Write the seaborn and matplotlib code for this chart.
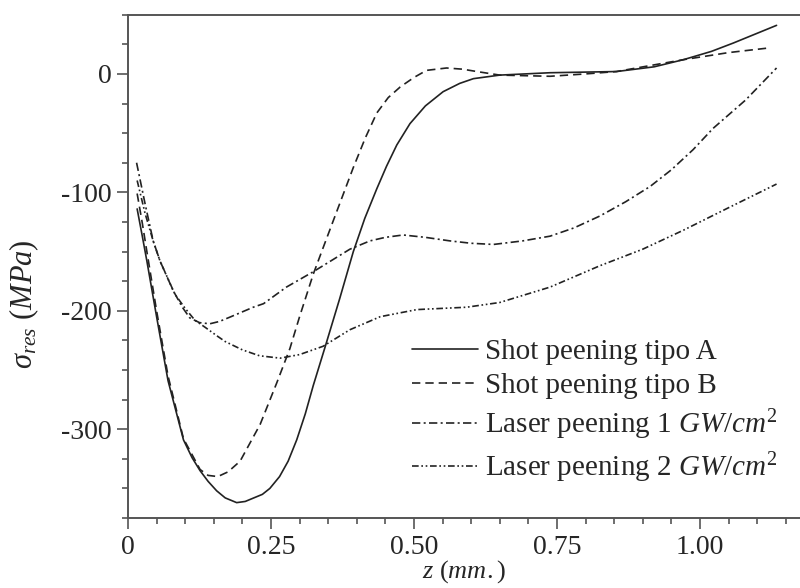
import numpy as np
import pandas as pd
import matplotlib
matplotlib.use("Agg")
import matplotlib.pyplot as plt
import seaborn as sns

# ==========================================
# DATA
# ==========================================
z_shot_a = [0.016, 0.025, 0.033, 0.05, 0.07, 0.097, 0.112, 0.126, 0.14, 0.155,
            0.17, 0.19, 0.205, 0.22, 0.235, 0.248, 0.265, 0.28, 0.295, 0.31,
            0.324, 0.345, 0.37, 0.394, 0.414, 0.435, 0.452, 0.47, 0.493, 0.52,
            0.551, 0.58, 0.604, 0.65, 0.738, 0.854, 0.92, 0.971, 1.02, 1.058,
            1.134]
s_shot_a = [-114, -137, -158, -205, -259, -309, -324, -335, -344, -352,
            -358, -362, -361, -358, -355, -350, -340, -327, -309, -287,
            -263, -230, -190, -150, -122, -97, -78, -60, -42, -27,
            -15, -8, -4, -1, 1, 2, 6, 12, 19, 26,
            41]

z_shot_b = [0.016, 0.025, 0.033, 0.05, 0.07, 0.097, 0.126, 0.14, 0.157, 0.175,
            0.196, 0.231, 0.26, 0.283, 0.30, 0.324, 0.341, 0.362, 0.394, 0.415,
            0.435, 0.455, 0.476, 0.50, 0.522, 0.557, 0.585, 0.61, 0.65, 0.738,
            0.80, 0.854, 0.971, 1.05, 1.122]
s_shot_b = [-101, -126, -150, -200, -255, -308, -334, -339, -340, -336,
            -327, -296, -261, -232, -205, -169, -147, -120, -79, -54,
            -33, -20, -11, -3, 3, 5, 4, 2, -1, -2,
            0, 2, 12, 18, 22]

z_laser_1 = [0.015, 0.03, 0.044, 0.056, 0.079, 0.095, 0.108, 0.125, 0.143, 0.16,
             0.18, 0.219, 0.237, 0.277, 0.324, 0.388, 0.423, 0.45, 0.481, 0.52,
             0.563, 0.6, 0.639, 0.69, 0.738, 0.78, 0.825, 0.87, 0.913, 0.95,
             0.988, 1.023, 1.08, 1.134]
s_laser_1 = [-75, -110, -141, -158, -183, -197, -206, -210, -211, -209,
             -205, -197, -194, -180, -167, -148, -141, -138, -136, -138,
             -141, -143, -144, -141, -137, -130, -120, -108, -95, -81,
             -64, -46, -22, 5]

z_laser_2 = [0.016, 0.03, 0.044, 0.056, 0.082, 0.1, 0.117, 0.135, 0.155, 0.17,
             0.2, 0.23, 0.266, 0.30, 0.341, 0.388, 0.441, 0.505, 0.592, 0.65,
             0.738, 0.825, 0.9, 0.971, 1.05, 1.134]
s_laser_2 = [-90, -118, -141, -158, -186, -198, -208, -214, -221, -226,
             -233, -238, -240, -237, -230, -216, -205, -199, -197, -193,
             -180, -162, -148, -132, -113, -93]

labels = ["Shot peening tipo A", "Shot peening tipo B",
          "Laser peening 1 $GW/cm^2$", "Laser peening 2 $GW/cm^2$"]

x_ticks = [0, 0.25, 0.50, 0.75, 1.00]
x_ticklabels = ["0", "0.25", "0.50", "0.75", "1.00"]
y_ticks = [-300, -200, -100, 0]

# ==========================================
# STYLE
# ==========================================
sns.set_style("ticks")
plt.rcParams["font.family"] = ["Liberation Serif", "DejaVu Serif"]
plt.rcParams["mathtext.fontset"] = "custom"
plt.rcParams["mathtext.rm"] = "Liberation Serif"
plt.rcParams["mathtext.it"] = "Liberation Serif:italic"
plt.rcParams["mathtext.bf"] = "Liberation Serif:bold"
plt.rcParams["axes.unicode_minus"] = False

line_col = "#222222"
axis_col = "#555555"

fig = plt.figure(figsize=(8, 5.88), dpi=100)
ax = fig.add_axes([0.16, 0.119, 0.84, 0.856])

series = [
    (z_shot_a, s_shot_a, "-"),
    (z_shot_b, s_shot_b, (0, (5, 3))),
    (z_laser_1, s_laser_1, (0, (5, 2, 1.2, 2))),
    (z_laser_2, s_laser_2, (0, (4, 1.6, 1, 1.6, 1, 1.6))),
]
for (zz, ss, ls), lab in zip(series, labels):
    df = pd.DataFrame({"z": zz, "s": ss})
    sns.lineplot(data=df, x="z", y="s", ax=ax, color=line_col, lw=1.2,
                 linestyle=ls, label=lab, sort=False, estimator=None)

ax.set_xlim(0, 1.175)
ax.set_ylim(-375, 50)
ax.set_xticks(x_ticks)
ax.set_xticklabels(x_ticklabels)
ax.set_yticks(y_ticks)
ax.set_xticks(np.arange(0, 1.176, 0.05), minor=True)
ax.set_yticks(np.arange(-375, 51, 25), minor=True)

ax.tick_params(axis="both", which="major", direction="out", length=8,
               width=1.2, color=axis_col, labelsize=20, pad=4)
ax.tick_params(axis="both", which="minor", direction="out", length=4.5,
               width=1.2, color=axis_col)
ax.tick_params(top=False, right=False)

for side in ["left", "bottom", "top"]:
    ax.spines[side].set_color(axis_col)
    ax.spines[side].set_linewidth(1.4)
ax.spines["right"].set_visible(False)

ax.set_xlabel("$z$ $(mm.)$", fontsize=19, labelpad=-1)
ax.set_ylabel(r"$\sigma_{res}$ $(MPa)$", fontsize=22)
ax.yaxis.set_label_coords(-0.13, 0.425)

leg = ax.legend(loc="upper left", bbox_to_anchor=(0.4226, 0.357), frameon=False,
                fontsize=21, handlelength=2.26, handletextpad=0.24,
                labelspacing=0.28, borderpad=0, borderaxespad=0)

fig.savefig("out.png", dpi=100)
